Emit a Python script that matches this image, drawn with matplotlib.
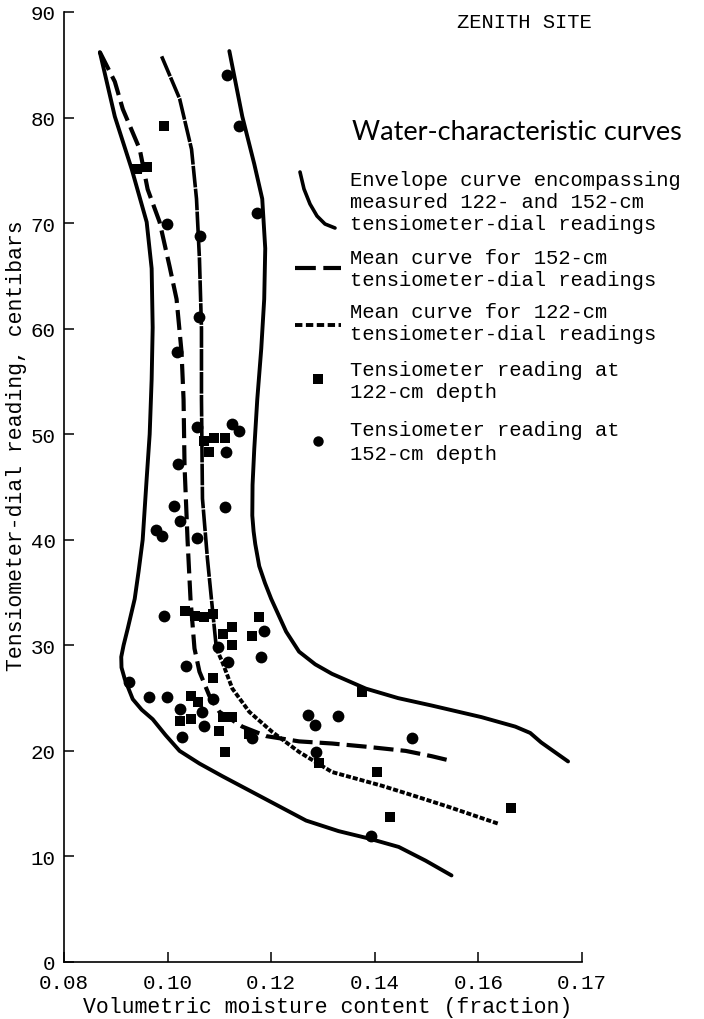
import matplotlib
matplotlib.use("Agg")
import matplotlib.pyplot as plt
from matplotlib.lines import Line2D

plt.rcParams['font.family'] = ['Liberation Mono', 'DejaVu Sans Mono']

# envelope curve, left / lower branch (moisture, centibars)
env_left_x = [0.08692, 0.08981, 0.09308, 0.09596, 0.09692, 0.09712, 0.09692, 0.09654,
              0.09596, 0.09519, 0.09440, 0.09365, 0.09231, 0.09150, 0.09105, 0.09110,
              0.09173, 0.09327, 0.09500, 0.09712, 0.09960, 0.10231, 0.10615, 0.11058,
              0.11904, 0.12673, 0.13300, 0.13885, 0.14462, 0.14981, 0.15481]
env_left_y = [86.2, 80.1, 75.1, 70.1, 65.7, 60.1, 55.2, 50.0, 45.8, 40.0, 37.0, 34.4,
              31.6, 30.0, 28.9, 27.9, 26.8, 24.9, 23.9, 23.0, 21.5, 20.0, 18.8, 17.6,
              15.4, 13.4, 12.4, 11.7, 10.9, 9.6, 8.2]

# envelope curve, right / upper branch
env_right_x = [0.11192, 0.11442, 0.11673, 0.11827, 0.11885, 0.11865, 0.11808, 0.11731,
               0.11673, 0.11640, 0.11635, 0.11660, 0.11692, 0.11769, 0.11880, 0.12000,
               0.12288, 0.12538, 0.12850, 0.13173, 0.13827, 0.14450, 0.15096, 0.16058,
               0.16712, 0.17000, 0.17212, 0.17731]
env_right_y = [86.3, 80.1, 75.6, 72.3, 67.6, 62.8, 58.1, 53.3, 48.6, 45.2, 42.3, 40.8,
               39.6, 37.5, 35.9, 34.4, 31.3, 29.4, 28.2, 27.3, 25.9, 25.0, 24.3, 23.2,
               22.3, 21.7, 20.8, 19.0]

# mean curve, 152-cm readings
mean152_x = [0.08692, 0.08981, 0.09135, 0.09462, 0.09615, 0.09846, 0.10038, 0.10173,
             0.10269, 0.10308, 0.10327, 0.10385, 0.10442, 0.10519, 0.10615, 0.10808,
             0.11000, 0.11442, 0.11904, 0.12538, 0.13173, 0.13827, 0.14596, 0.15096,
             0.15519]
mean152_y = [86.2, 83.4, 80.8, 77.0, 73.2, 70.1, 65.9, 62.8, 57.8, 53.3, 47.0, 40.0,
             34.4, 29.7, 27.5, 25.2, 23.7, 22.3, 21.4, 20.9, 20.7, 20.4, 20.0, 19.5,
             19.0]

# mean curve, 122-cm readings
mean122_x = [0.09885, 0.10231, 0.10462, 0.10558, 0.10615, 0.10654, 0.10654, 0.10673,
             0.10769, 0.10846, 0.10942, 0.11058, 0.11250, 0.11577, 0.12019, 0.12538,
             0.13173, 0.14135, 0.14788, 0.15423, 0.16385]
mean122_y = [85.8, 81.8, 77.0, 72.3, 66.6, 60.0, 53.3, 43.9, 38.2, 34.4, 29.7, 28.4,
             25.9, 23.7, 21.8, 19.9, 18.0, 16.7, 15.7, 14.7, 13.1]

# tensiometer readings at 122-cm depth (squares)
sq_x = [0.0994, 0.0940, 0.0960, 0.1071, 0.1090, 0.1110, 0.1080, 0.1033, 0.1052, 0.1071,
        0.1087, 0.1125, 0.1106, 0.1177, 0.1163, 0.1125, 0.1087, 0.1046, 0.1023, 0.1046,
        0.1106, 0.1125, 0.1100, 0.1158, 0.1110, 0.1375, 0.1292, 0.1404, 0.1429, 0.1663,
        0.1058]
sq_y = [79.2, 75.1, 75.3, 49.4, 49.6, 49.6, 48.3, 33.3, 32.8, 32.7, 33.0, 31.7, 31.1,
        32.7, 30.9, 30.0, 26.9, 25.2, 22.8, 23.0, 23.2, 23.2, 21.9, 21.6, 19.9, 25.6,
        18.9, 18.0, 13.7, 14.6, 24.6]

# tensiometer readings at 152-cm depth (circles)
ci_x = [0.1115, 0.1137, 0.0998, 0.1173, 0.1063, 0.1060, 0.1019, 0.1056, 0.1020, 0.1125,
        0.1138, 0.1113, 0.1110, 0.1012, 0.1023, 0.0977, 0.0990, 0.1056, 0.0994, 0.1187,
        0.1180, 0.1097, 0.1116, 0.1036, 0.0925, 0.0965, 0.0998, 0.1087, 0.1023, 0.1071,
        0.1163, 0.1027, 0.1271, 0.1285, 0.1329, 0.1471, 0.1287, 0.1392, 0.1067]
ci_y = [84.0, 79.2, 69.9, 71.0, 68.8, 61.1, 57.8, 50.7, 47.2, 51.0, 50.3, 48.3, 43.1,
        43.2, 41.8, 40.9, 40.4, 40.2, 32.8, 31.4, 28.9, 29.8, 28.4, 28.0, 26.5, 25.1,
        25.1, 24.9, 24.0, 22.4, 21.2, 21.3, 23.4, 22.5, 23.3, 21.2, 19.9, 11.9, 23.7]

x_ticks = [0.08, 0.10, 0.12, 0.14, 0.16, 0.18]
x_tick_labels = ['0.08', '0.10', '0.12', '0.14', '0.16', '0.17']
y_ticks = list(range(0, 91, 10))

fig = plt.figure(figsize=(7.04, 10.2), dpi=100)
ax = fig.add_axes([64 / 704, 57 / 1020, 518 / 704, 950 / 1020])

ax.plot(env_left_x, env_left_y, color='black', lw=2.8, solid_capstyle='round')
ax.plot(env_right_x, env_right_y, color='black', lw=2.8, solid_capstyle='round')
ax.plot(mean152_x, mean152_y, color='black', lw=3.0, dashes=(4.8, 1.7))
# upper part of the 122-cm curve is drawn almost solid, lower part finely dashed
ax.plot(mean122_x[:11], mean122_y[:11], color='black', lw=2.6, dashes=(6.0, 0.35))
ax.plot(mean122_x[10:], mean122_y[10:], color='black', lw=2.8, dashes=(1.3, 0.5))
ax.plot(sq_x, sq_y, 's', color='black', ms=7.5, mew=0)
ax.plot(ci_x, ci_y, 'o', color='black', ms=8.5, mew=0)

ax.set_xlim(0.08, 0.18)
ax.set_ylim(0, 90)
ax.set_xticks(x_ticks)
ax.set_xticklabels(x_tick_labels)
ax.set_yticks(y_ticks)
for side in ['top', 'right']:
    ax.spines[side].set_visible(False)
for side in ['left', 'bottom']:
    ax.spines[side].set_linewidth(1.2)
ax.tick_params(direction='in', length=7, width=1.1, labelsize=15)
ax.tick_params(axis='x', pad=8)
ax.tick_params(axis='y', pad=6)

ax.set_xlabel('Volumetric moisture content (fraction)', fontsize=15.5)
ax.set_ylabel('Tensiometer-dial reading, centibars', fontsize=15.5)
ax.xaxis.set_label_coords(0.508, -0.036)
ax.yaxis.set_label_coords(-0.072, 0.545)


# key, placed with pixel positions of the original page
def fx(px):
    return px / 704


def fy(py):
    return 1 - py / 1020


fig.text(fx(457), fy(22), 'ZENITH SITE', fontsize=14.8, va='center')
fig.text(fx(352), fy(133), 'Water-characteristic curves', fontsize=19.5,
         family=['Lato', 'DejaVu Sans'], va='center')

key_texts = [
    (181, 'Envelope curve encompassing'),
    (203, 'measured 122- and 152-cm'),
    (225, 'tensiometer-dial readings'),
    (258, 'Mean curve for 152-cm'),
    (280, 'tensiometer-dial readings'),
    (313, 'Mean curve for 122-cm'),
    (335, 'tensiometer-dial readings'),
    (370, 'Tensiometer reading at'),
    (393, '122-cm depth'),
    (430, 'Tensiometer reading at'),
    (455, '152-cm depth'),
]
for py, txt in key_texts:
    fig.text(fx(350), fy(py), txt, fontsize=14.8, va='center')

arc_px = [300, 304, 310, 317, 325, 335]
arc_py = [173, 190, 205, 217, 225, 229]
fig.add_artist(Line2D([fx(p) for p in arc_px], [fy(p) for p in arc_py],
                      color='black', lw=2.6, solid_capstyle='round'))
fig.add_artist(Line2D([fx(295), fx(341)], [fy(269), fy(269)], color='black',
                      lw=3.0, dashes=(5.0, 1.8)))
fig.add_artist(Line2D([fx(295), fx(341)], [fy(326), fy(326)], color='black',
                      lw=2.8, dashes=(1.9, 0.9)))
fig.add_artist(Line2D([fx(318)], [fy(380)], marker='s', color='black', ms=6.5, mew=0))
fig.add_artist(Line2D([fx(318)], [fy(442)], marker='o', color='black', ms=7.5, mew=0))

fig.savefig('out.png', dpi=100)
